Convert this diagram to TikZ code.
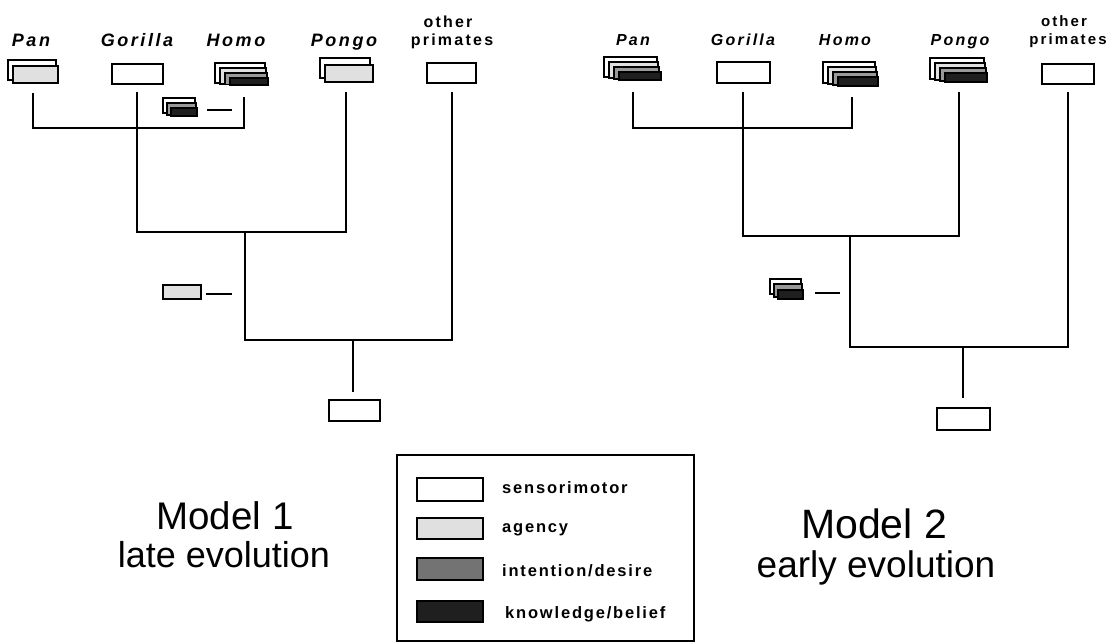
\documentclass[tikz,border=0pt]{standalone}
\usepackage{fontspec}
\setmainfont{Liberation Sans}
\newfontfamily\spfont[LetterSpace=14]{Liberation Sans}
\newfontfamily\lgfont[LetterSpace=11]{Liberation Sans}
\begin{document}
\begin{tikzpicture}[x=1pt,y=-1pt,
  basebox/.style={draw, line width=1.2pt, fill=white, inner sep=0pt, outer sep=0pt},
  smbox/.style={basebox},
  agbox/.style={basebox, fill=black!12},
  idbox/.style={basebox, fill=black!40},
  kbbox/.style={basebox, fill=black!88},
  branch/.style={line width=1.5pt},
  splab/.style={font=\spfont\bfseries\itshape\fontsize{18}{18}\selectfont, inner sep=0pt, anchor=base},
  splabb/.style={font=\spfont\bfseries\itshape\fontsize{16}{16}\selectfont, inner sep=0pt, anchor=base},
  oplab/.style={font=\spfont\bfseries\fontsize{16}{16}\selectfont, inner sep=0pt, anchor=base},
  oplabb/.style={font=\spfont\bfseries\fontsize{15}{15}\selectfont, inner sep=0pt, anchor=base},
  legtext/.style={font=\lgfont\bfseries\fontsize{16.5}{16.5}\selectfont, inner sep=0pt, anchor=base west},
  ttl/.style={font=\fontsize{38.5}{38.5}\selectfont, inner sep=0pt, anchor=base},
  subttl/.style={font=\fontsize{36}{36}\selectfont, inner sep=0pt, anchor=base}
]
\useasboundingbox (0,0) rectangle (1110,643);

%% ================= MODEL 1 =================
\node[splab] (l1pan) at (31,46) {Pan};
\node[splab] (l1gor) at (137,46) {Gorilla};
\node[splab] (l1hom) at (236,46) {Homo};
\node[splab] (l1pon) at (344,46) {Pongo};
\node[oplab] (l1oth) at (448,27) {other};
\node[oplab] (l1pri) at (452,45) {primates};

\node[smbox, minimum width=48pt, minimum height=20pt] (p1b) at (32,70) {};
\node[agbox, minimum width=45pt, minimum height=17pt] (p1f) at (35.5,74.5) {};
\node[smbox, minimum width=51pt, minimum height=20pt] (g1) at (137.5,74) {};
\node[smbox, minimum width=50pt, minimum height=20pt] (h1a) at (240,73) {};
\node[agbox, minimum width=46pt, minimum height=16pt] (h1b) at (243,76) {};
\node[idbox, minimum width=42pt, minimum height=11.5pt] (h1c) at (246,78.75) {};
\node[kbbox, minimum width=38pt, minimum height=7pt] (h1d) at (249,81.5) {};
\node[smbox, minimum width=50pt, minimum height=20pt] (o1b) at (345,68) {};
\node[agbox, minimum width=48pt, minimum height=17pt] (o1f) at (349,73.5) {};
\node[smbox, minimum width=49pt, minimum height=20pt] (x1) at (451.5,73) {};
\node[smbox, minimum width=51pt, minimum height=21pt] (r1) at (354.5,410.5) {};

\node[smbox, minimum width=32pt, minimum height=15pt] (mAa) at (179,105.5) {};
\node[idbox, minimum width=29pt, minimum height=12pt] (mAb) at (181.5,109) {};
\node[kbbox, minimum width=26pt, minimum height=8pt] (mAc) at (184,112) {};
\node[agbox, minimum width=38pt, minimum height=14pt] (mB) at (182,292) {};
\coordinate (dA1) at (207,110); \coordinate (dA2) at (232,110);
\coordinate (dB1) at (206,294); \coordinate (dB2) at (232,294);
\draw[branch] (dA1) -- (dA2);
\draw[branch] (dB1) -- (dB2);

\coordinate (t1pan) at (33,93);
\coordinate (t1gor) at (137,92);
\coordinate (t1hom) at (244,97);
\coordinate (t1pon) at (346,92);
\coordinate (t1oth) at (452,92);
\coordinate (j1a) at (137,128);
\coordinate (j1b) at (245,232);
\coordinate (j1c) at (353,340);
\coordinate (t1root) at (353,392);
\draw[branch] (t1pan) -- (t1pan |- j1a) -- (t1hom |- j1a) -- (t1hom);
\draw[branch] (t1gor) -- (t1gor |- j1b) -- (t1pon |- j1b) -- (t1pon);
\draw[branch] (j1b) -- (j1b |- j1c) -- (t1oth |- j1c) -- (t1oth);
\draw[branch] (j1c) -- (t1root);

\node[ttl] (m1) at (225,529) {Model 1};
\node[subttl] (m1s) at (224,567) {late evolution};

%% ================= MODEL 2 =================
\node[splabb] (l2pan) at (633,45) {Pan};
\node[splabb] (l2gor) at (743,45) {Gorilla};
\node[splabb] (l2hom) at (845,45) {Homo};
\node[splabb] (l2pon) at (960,45) {Pongo};
\node[oplabb] (l2oth) at (1064,26) {other};
\node[oplabb] (l2pri) at (1068,44) {primates};

\node[smbox, minimum width=53pt, minimum height=20pt] (p2a) at (630.5,67) {};
\node[agbox, minimum width=49pt, minimum height=16pt] (p2b) at (633.5,70) {};
\node[idbox, minimum width=45pt, minimum height=12pt] (p2c) at (636.5,73) {};
\node[kbbox, minimum width=42pt, minimum height=8pt] (p2d) at (640,76) {};
\node[smbox, minimum width=53pt, minimum height=21pt] (g2) at (743.5,72.5) {};
\node[smbox, minimum width=52pt, minimum height=21pt] (h2a) at (849,72.5) {};
\node[agbox, minimum width=48pt, minimum height=17pt] (h2b) at (852,75.5) {};
\node[idbox, minimum width=44pt, minimum height=13pt] (h2c) at (855,78.5) {};
\node[kbbox, minimum width=40pt, minimum height=9pt] (h2d) at (858,81.5) {};
\node[smbox, minimum width=54pt, minimum height=21pt] (o2a) at (957,68.5) {};
\node[agbox, minimum width=50pt, minimum height=17pt] (o2b) at (960,71.5) {};
\node[idbox, minimum width=46pt, minimum height=13pt] (o2c) at (963,74.5) {};
\node[kbbox, minimum width=42pt, minimum height=9pt] (o2d) at (966,77.5) {};
\node[smbox, minimum width=52pt, minimum height=20pt] (x2) at (1068,74) {};
\node[smbox, minimum width=53pt, minimum height=22pt] (r2) at (963.5,419) {};

\node[smbox, minimum width=31pt, minimum height=15pt] (mCa) at (785.5,286.5) {};
\node[idbox, minimum width=28pt, minimum height=13pt] (mCb) at (788,290.5) {};
\node[kbbox, minimum width=25pt, minimum height=9pt] (mCc) at (790.5,294.5) {};
\coordinate (dC1) at (815,293); \coordinate (dC2) at (840,293);
\draw[branch] (dC1) -- (dC2);

\coordinate (t2pan) at (633,92);
\coordinate (t2gor) at (743,92);
\coordinate (t2hom) at (852,97);
\coordinate (t2pon) at (959,92);
\coordinate (t2oth) at (1068,92);
\coordinate (j2a) at (743,128);
\coordinate (j2b) at (850,236);
\coordinate (j2c) at (963,347);
\coordinate (t2root) at (963,398);
\draw[branch] (t2pan) -- (t2pan |- j2a) -- (t2hom |- j2a) -- (t2hom);
\draw[branch] (t2gor) -- (t2gor |- j2b) -- (t2pon |- j2b) -- (t2pon);
\draw[branch] (j2b) -- (j2b |- j2c) -- (t2oth |- j2c) -- (t2oth);
\draw[branch] (j2c) -- (t2root);

\node[ttl, font=\fontsize{41}{41}\selectfont] (m2) at (874,538) {Model 2};
\node[subttl, font=\fontsize{37}{37}\selectfont] (m2s) at (876,577) {early evolution};

%% ================= LEGEND =================
\node[draw, line width=1.1pt, minimum width=297pt, minimum height=186pt, inner sep=0pt] (leg) at (545.5,548) {};
\node[smbox, minimum width=66pt, minimum height=23pt] (s1) at (450,489.5) {};
\node[agbox, minimum width=66pt, minimum height=21pt] (s2) at (450,528.5) {};
\node[idbox, fill=black!55, minimum width=66pt, minimum height=22pt] (s3) at (450,569) {};
\node[kbbox, minimum width=66pt, minimum height=21pt] (s4) at (450,611.5) {};
\node[legtext] (t1) at (502,493) {sensorimotor};
\node[legtext] (t2) at (502,532) {agency};
\node[legtext] (t3) at (502,576) {intention/desire};
\node[legtext] (t4) at (505,618) {knowledge/belief};
\end{tikzpicture}
\end{document}
